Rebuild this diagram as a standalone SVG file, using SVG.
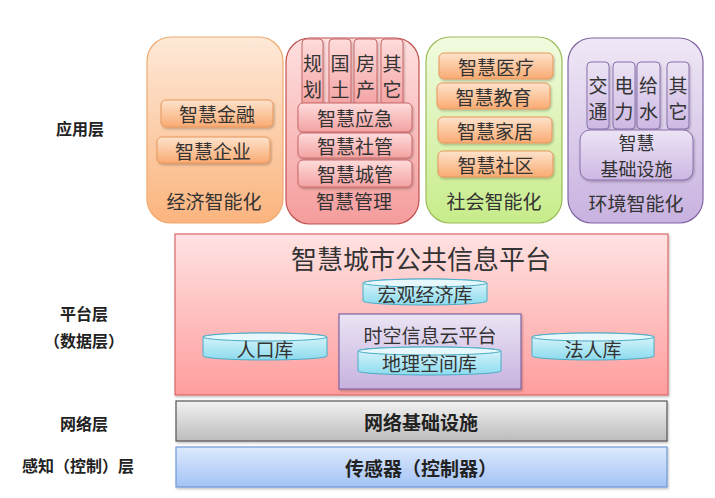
<svg xmlns="http://www.w3.org/2000/svg" width="715" height="498" viewBox="0 0 715 498">
<defs>
<linearGradient id="gOr" x1="0" y1="0" x2="0" y2="1"><stop offset="0" stop-color="#fee9d8"/><stop offset="1" stop-color="#fbb47e"/></linearGradient>
<linearGradient id="gOrI" x1="0" y1="0" x2="0" y2="1"><stop offset="0" stop-color="#fee3cc"/><stop offset="1" stop-color="#f9ab72"/></linearGradient>
<linearGradient id="gPk" x1="0" y1="0" x2="0" y2="1"><stop offset="0" stop-color="#ffe0e0"/><stop offset="1" stop-color="#f59c9c"/></linearGradient>
<linearGradient id="gPkI" x1="0" y1="0" x2="0" y2="1"><stop offset="0" stop-color="#ffdcdc"/><stop offset="1" stop-color="#f3a2a2"/></linearGradient>
<linearGradient id="gGr" x1="0" y1="0" x2="0" y2="1"><stop offset="0" stop-color="#f1fbe0"/><stop offset="1" stop-color="#c7ec8a"/></linearGradient>
<linearGradient id="gPu" x1="0" y1="0" x2="0" y2="1"><stop offset="0" stop-color="#efe8f6"/><stop offset="1" stop-color="#c8b2e0"/></linearGradient>
<linearGradient id="gPuI" x1="0" y1="0" x2="0" y2="1"><stop offset="0" stop-color="#ece4f5"/><stop offset="1" stop-color="#cdb8e3"/></linearGradient>
<linearGradient id="gPf" x1="0" y1="0" x2="0" y2="1"><stop offset="0" stop-color="#ffe2e2"/><stop offset="1" stop-color="#ff9d9d"/></linearGradient>
<linearGradient id="gCl" x1="0" y1="0" x2="0" y2="1"><stop offset="0" stop-color="#ebe4f4"/><stop offset="1" stop-color="#c6b2de"/></linearGradient>
<linearGradient id="gCy" x1="0" y1="0" x2="0" y2="1"><stop offset="0" stop-color="#dff7fc"/><stop offset="1" stop-color="#8cdbee"/></linearGradient>
<linearGradient id="gGy" x1="0" y1="0" x2="0" y2="1"><stop offset="0" stop-color="#f2f2f2"/><stop offset="1" stop-color="#bcbcbc"/></linearGradient>
<linearGradient id="gBl" x1="0" y1="0" x2="0" y2="1"><stop offset="0" stop-color="#dde9fd"/><stop offset="1" stop-color="#a3c3f5"/></linearGradient>
<filter id="sh" x="-10%" y="-10%" width="130%" height="140%"><feDropShadow dx="1" dy="1.5" stdDeviation="1" flood-color="#000" flood-opacity="0.25"/></filter>
</defs>
<style>
text{font-family:"Noto Sans CJK SC","Noto Sans CJK TC",sans-serif;fill:#333;text-anchor:middle;dominant-baseline:central}
.t20{font-size:19px}
.t18{font-size:18px}
.t26{font-size:26px}
.lbl{font-size:16px;fill:#222;font-weight:bold}
.bold{font-size:19px;fill:#222;font-weight:bold}
.col{stroke-width:1.2}
.or{fill:url(#gOrI);stroke:#e8975c;filter:url(#sh)}
.pk{fill:url(#gPkI);stroke:#c96666;filter:url(#sh)}
.pu{fill:url(#gPuI);stroke:#8a70ad;filter:url(#sh)}
.cy{fill:url(#gCy);stroke:#4bacc6;stroke-width:1}
</style>

<g id="layer-labels">
<text class="lbl" x="80" y="128">应用层</text>
<text class="lbl" x="84" y="313">平台层</text>
<text class="lbl" x="84" y="340">（数据层）</text>
<text class="lbl" x="84" y="423">网络层</text>
<text class="lbl" x="78" y="465">感知（控制）层</text>
</g>

<g id="economy">
<rect class="col" x="147" y="37" width="136" height="186" rx="24" fill="url(#gOr)" stroke="#f0a96f"/>
<rect class="or" x="161" y="100" width="112" height="27" rx="5"/>
<text class="t20" x="217" y="113">智慧金融</text>
<rect class="or" x="157" y="137" width="113" height="26" rx="5"/>
<text class="t20" x="213" y="150">智慧企业</text>
<text class="t20" x="214" y="200">经济智能化</text>
</g>

<g id="management">
<rect class="col" x="286" y="38" width="133" height="186" rx="24" fill="url(#gPk)" stroke="#c0504d"/>
<rect class="pk" x="302" y="39" width="21" height="67" rx="4"/>
<text class="t20" x="312.5" y="62">规</text><text class="t20" x="312.5" y="88">划</text>
<rect class="pk" x="329" y="39" width="22" height="67" rx="4"/>
<text class="t20" x="340" y="62">国</text><text class="t20" x="340" y="88">土</text>
<rect class="pk" x="354" y="39" width="23" height="67" rx="4"/>
<text class="t20" x="365.5" y="62">房</text><text class="t20" x="365.5" y="88">产</text>
<rect class="pk" x="381" y="39" width="22" height="67" rx="4"/>
<text class="t20" x="392" y="62">其</text><text class="t20" x="392" y="88">它</text>
<rect class="pk" x="298" y="103" width="114" height="29" rx="5"/>
<text class="t20" x="355" y="117">智慧应急</text>
<rect class="pk" x="298" y="133" width="114" height="25" rx="5"/>
<text class="t20" x="355" y="145.5">智慧社管</text>
<rect class="pk" x="298" y="160" width="114" height="27" rx="5"/>
<text class="t20" x="355" y="173">智慧城管</text>
<text class="t20" x="354" y="200">智慧管理</text>
</g>

<g id="society">
<rect class="col" x="426" y="37" width="136" height="186" rx="24" fill="url(#gGr)" stroke="#9bbb59"/>
<rect class="or" x="439" y="53" width="114" height="26" rx="5"/>
<text class="t20" x="496" y="66">智慧医疗</text>
<rect class="or" x="437" y="83" width="113" height="26" rx="5"/>
<text class="t20" x="493.5" y="96">智慧教育</text>
<rect class="or" x="438" y="117" width="114" height="26" rx="5"/>
<text class="t20" x="495" y="130">智慧家居</text>
<rect class="or" x="438" y="151" width="115" height="26" rx="5"/>
<text class="t20" x="495.5" y="164">智慧社区</text>
<text class="t20" x="494" y="200">社会智能化</text>
</g>

<g id="environment">
<rect class="col" x="568" y="38" width="135" height="185" rx="24" fill="url(#gPu)" stroke="#8064a2"/>
<rect class="pu" x="587" y="62" width="22" height="67" rx="4"/>
<text class="t20" x="598" y="84">交</text><text class="t20" x="598" y="110">通</text>
<rect class="pu" x="613" y="62" width="22" height="67" rx="4"/>
<text class="t20" x="624" y="84">电</text><text class="t20" x="624" y="110">力</text>
<rect class="pu" x="637" y="62" width="23" height="67" rx="4"/>
<text class="t20" x="648.5" y="84">给</text><text class="t20" x="648.5" y="110">水</text>
<rect class="pu" x="667" y="62" width="22" height="67" rx="4"/>
<text class="t20" x="678" y="84">其</text><text class="t20" x="678" y="110">它</text>
<rect class="pu" x="580" y="130" width="113" height="50" rx="10"/>
<text class="t18" x="636.5" y="142">智慧</text>
<text class="t18" x="636.5" y="168">基础设施</text>
<text class="t20" x="636" y="202">环境智能化</text>
</g>

<g id="platform">
<rect x="175" y="234" width="493" height="161" fill="url(#gPf)" stroke="#d9696a" stroke-width="1.2" filter="url(#sh)"/>
<text class="t26" x="421" y="257">智慧城市公共信息平台</text>
</g>

<g id="macro-db">
<path class="cy" d="M363,283 A62,4 0 0 1 487,283 L487,301 A62,4 0 0 1 363,301 Z"/>
<ellipse cx="425" cy="283" rx="62" ry="4" fill="#e6f8fc" stroke="#4bacc6"/>
<text class="t20" x="425" y="293">宏观经济库</text>
</g>

<g id="cloud-platform">
<rect x="339" y="314" width="182" height="75" fill="url(#gCl)" stroke="#8064a2" stroke-width="1.2" filter="url(#sh)"/>
<text class="t20" x="430" y="334">时空信息云平台</text>
</g>

<g id="geo-db">
<path class="cy" d="M358,351 A71.5,4 0 0 1 501,351 L501,371 A71.5,4 0 0 1 358,371 Z"/>
<ellipse cx="429.5" cy="351" rx="71.5" ry="4" fill="#e6f8fc" stroke="#4bacc6"/>
<text class="t20" x="429.5" y="362">地理空间库</text>
</g>

<g id="population-db">
<path class="cy" d="M203,337 A62,4 0 0 1 327,337 L327,356 A62,4 0 0 1 203,356 Z"/>
<ellipse cx="265" cy="337" rx="62" ry="4" fill="#e6f8fc" stroke="#4bacc6"/>
<text class="t20" x="265" y="348">人口库</text>
</g>

<g id="legal-db">
<path class="cy" d="M532,337 A61,4 0 0 1 654,337 L654,356 A61,4 0 0 1 532,356 Z"/>
<ellipse cx="593" cy="337" rx="61" ry="4" fill="#e6f8fc" stroke="#4bacc6"/>
<text class="t20" x="593" y="348">法人库</text>
</g>

<g id="network">
<rect x="176" y="401" width="491" height="40" fill="url(#gGy)" stroke="#555" stroke-width="1.2" filter="url(#sh)"/>
<text class="bold" x="421" y="421">网络基础设施</text>
</g>

<g id="sensor">
<rect x="176" y="447" width="491" height="40" fill="url(#gBl)" stroke="#6f9ad8" stroke-width="1.2" filter="url(#sh)"/>
<text class="bold" x="421" y="467">传感器（控制器）</text>
</g>

<g id="connectors"/>
</svg>
